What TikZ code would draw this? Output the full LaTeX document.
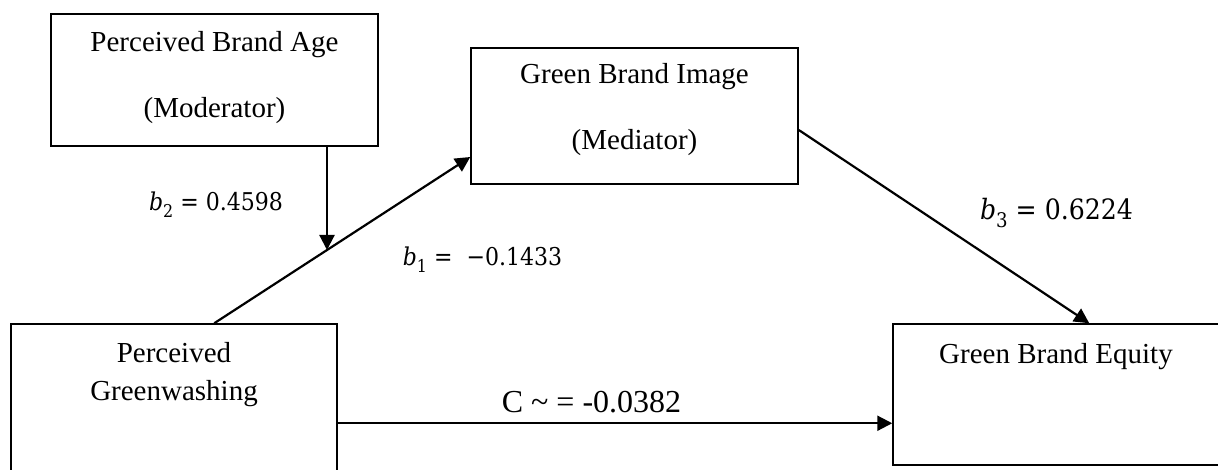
\documentclass[tikz,border=0pt]{standalone}
\usepackage{fontspec}
\setmainfont{Liberation Serif}
\newfontfamily\coeffont{DejaVu Serif Condensed}
\usetikzlibrary{arrows.meta}

% coefficient label: italic b, subscript index, value
\newcommand{\coefval}[2]{\textit{b}\raisebox{-0.28em}{\scalebox{0.72}{#1}}\ =\ #2}

\begin{document}
\begin{tikzpicture}[x=1pt,y=-1pt,
  box/.style={draw, line width=1.5pt, rectangle, inner sep=0pt},
  boxtext/.style={anchor=base, inner sep=0pt, font=\fontsize{29}{34}\selectfont},
  coef/.style={anchor=base, inner sep=0pt, font=\coeffont\fontsize{24.5}{29}\selectfont},
  arr/.style={line width=2.2pt, -{Triangle[length=15pt,width=15pt]}}]

\useasboundingbox (0,0) rectangle (1218,470);
\clip (0,0) rectangle (1218,470);

% boxes
\node[box, minimum width=327pt, minimum height=132pt] (age)    at (214.5,80)  {};
\node[box, minimum width=327pt, minimum height=136pt] (image)  at (634.5,116) {};
\node[box, minimum width=326pt, minimum height=160pt] (wash)   at (174,404)   {};
\node[box, minimum width=340pt, minimum height=141pt] (equity) at (1063,394.5) {};

% box labels
\node[boxtext] (agetxt1)   at (214.5,52)  {Perceived Brand Age};
\node[boxtext] (agetxt2)   at (214.5,118) {(Moderator)};
\node[boxtext] (imagetxt1) at (634.5,84)  {Green Brand Image};
\node[boxtext] (imagetxt2) at (634.5,150) {(Mediator)};
\node[boxtext] (washtxt1)  at (174,362)   {Perceived};
\node[boxtext] (washtxt2)  at (174,400)   {Greenwashing};
\node[boxtext] (equitytxt) at (1056,363)  {Green Brand Equity};

% paths
\coordinate (washtop) at ([xshift=204pt]wash.north west);
\coordinate (imagein) at ([yshift=-41pt]image.west);
\coordinate (junction) at (327,250);

\draw[arr] (washtop) -- (imagein);
\draw[arr] (junction |- age.south) -- (junction);
\draw[arr] ([yshift=-14pt]image.east) -- ([xshift=197pt]equity.north west);
\draw[arr] ([yshift=-100pt]wash.north east) -- ([yshift=-100pt]equity.north west);

% coefficients
\node[coef] (b2) at (216,211)   {\coefval{2}{0.4598}};
\node[coef] (b1) at (482.5,266) {\coefval{1}{\ −0.1433}};
\node[coef, font=\coeffont\fontsize{28}{33}\selectfont] (b3) at (1056.5,220) {\coefval{3}{0.6224}};
\node[anchor=base, inner sep=0pt, font=\fontsize{32}{38}\selectfont] (c) at (591.5,412) {C \char`~\ = -0.0382};

\end{tikzpicture}
\end{document}
